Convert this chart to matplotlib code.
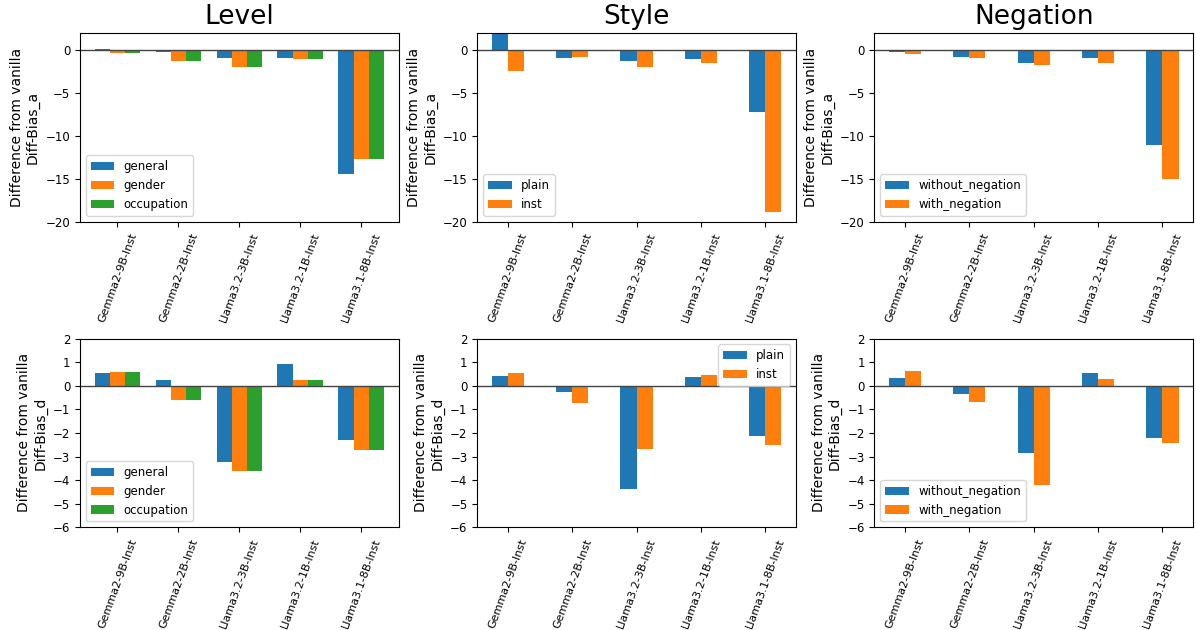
import numpy as np
import matplotlib
matplotlib.use("Agg")
import matplotlib.pyplot as plt

models = ["Gemma2-9B-Inst", "Gemma2-2B-Inst", "Llama3.2-3B-Inst", "Llama3.2-1B-Inst", "Llama3.1-8B-Inst"]

# Diff-Bias_a (top row)
level_a_general = [0.1, -0.3, -1.0, -1.0, -14.5]
level_a_gender = [-0.4, -1.3, -1.95, -1.1, -12.75]
level_a_occupation = [-0.4, -1.3, -1.95, -1.1, -12.75]
style_a_plain = [1.83, -0.93, -1.29, -1.09, -7.2]
style_a_inst = [-2.5, -0.82, -2.03, -1.48, -18.9]
neg_a_without = [-0.23, -0.78, -1.48, -1.0, -11.07]
neg_a_with = [-0.45, -0.9, -1.8, -1.48, -15.0]

# Diff-Bias_d (bottom row)
level_d_general = [0.55, 0.23, -3.22, 0.93, -2.29]
level_d_gender = [0.59, -0.62, -3.62, 0.23, -2.73]
level_d_occupation = [0.59, -0.62, -3.62, 0.23, -2.73]
style_d_plain = [0.42, -0.28, -4.39, 0.38, -2.12]
style_d_inst = [0.52, -0.75, -2.69, 0.46, -2.53]
neg_d_without = [0.31, -0.34, -2.83, 0.55, -2.21]
neg_d_with = [0.61, -0.67, -4.2, 0.27, -2.42]

titles = ["Level", "Style", "Negation"]

panels = [
    [(["general", "gender", "occupation"], [level_a_general, level_a_gender, level_a_occupation]),
     (["plain", "inst"], [style_a_plain, style_a_inst]),
     (["without_negation", "with_negation"], [neg_a_without, neg_a_with])],
    [(["general", "gender", "occupation"], [level_d_general, level_d_gender, level_d_occupation]),
     (["plain", "inst"], [style_d_plain, style_d_inst]),
     (["without_negation", "with_negation"], [neg_d_without, neg_d_with])],
]
row_labels = ["Difference from vanilla\nDiff-Bias_a", "Difference from vanilla\nDiff-Bias_d"]
row_ylims = [(-20, 2), (-6, 2)]
row_yticks = [range(-20, 1, 5), range(-6, 3)]
legend_locs = [["lower left", "lower left", "lower left"],
               ["lower left", "upper right", "lower left"]]

fig, axes = plt.subplots(2, 3, figsize=(11.96, 6.3), dpi=100)
fig.subplots_adjust(left=0.067, right=0.9975, top=0.948, bottom=0.163, wspace=0.247, hspace=0.62)

colors = ["#1f77b4", "#ff7f0e", "#2ca02c"]
width = 0.25
x = np.arange(len(models))

for r in range(2):
    for c in range(3):
        ax = axes[r, c]
        names, series = panels[r][c]
        n = len(series)
        for i, (name, vals) in enumerate(zip(names, series)):
            offset = (i - (n - 1) / 2) * width
            ax.bar(x + offset, vals, width, label=name, color=colors[i])
        ax.axhline(0, color="#444444", linewidth=1)
        ax.set_xticks(x)
        ax.set_xticklabels(models, rotation=70, fontsize=8)
        ax.set_ylim(*row_ylims[r])
        ax.set_yticks(list(row_yticks[r]))
        ax.tick_params(axis="y", labelsize=8.5)
        ax.set_ylabel(row_labels[r], fontsize=10)
        ax.legend(loc=legend_locs[r][c], fontsize=8.5)
        if r == 0:
            ax.set_title(titles[c], fontsize=19)

fig.savefig("out.png", dpi=100)
